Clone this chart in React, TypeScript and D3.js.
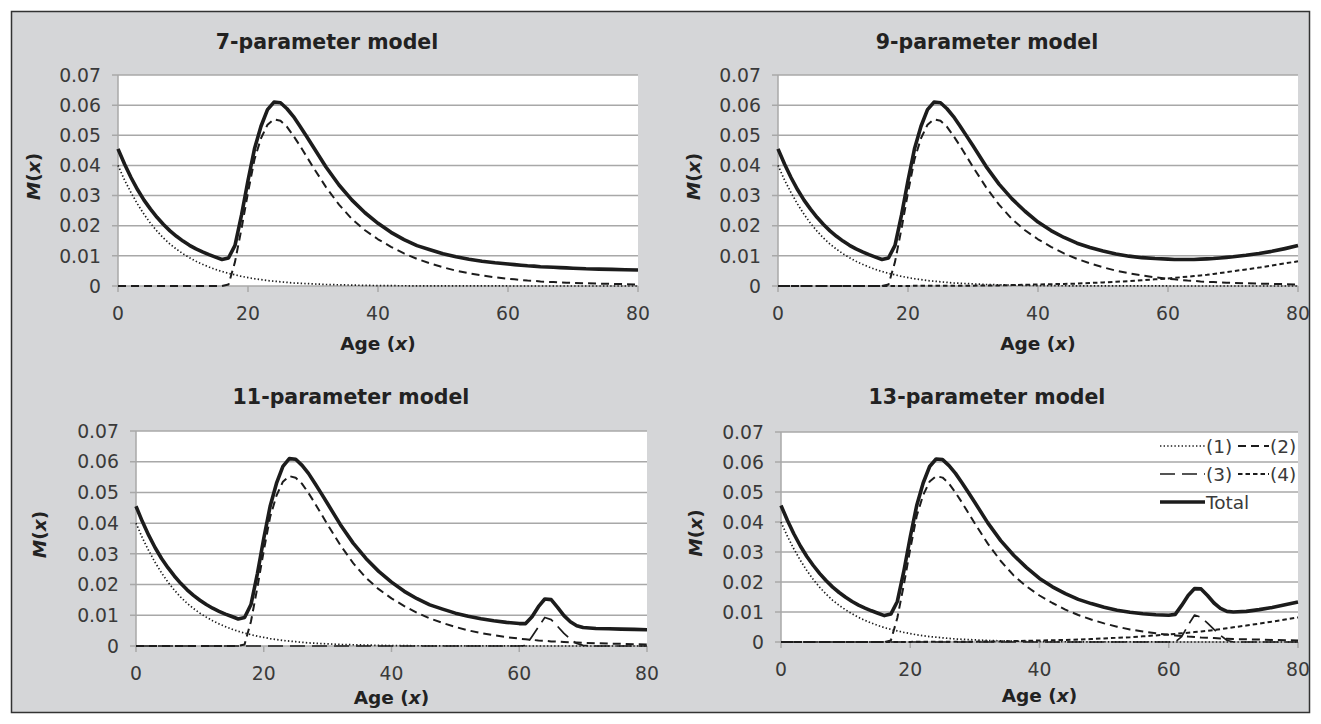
import React from "react";
import * as d3 from "d3";

// ---------- DATA ----------
const AGES = [
  0, 1, 2, 3, 4, 5, 6, 7, 8, 9, 10, 11, 12, 13, 14, 15, 16, 17, 18, 19, 20,
  21, 22, 23, 24, 25, 26, 27, 28, 29, 30, 32, 34, 36, 38, 40, 42, 44, 46, 48,
  50, 52, 54, 56, 58, 60, 61, 62, 63, 64, 65, 66, 67, 68, 69, 70, 72, 74, 76,
  78, 80,
];

// (1) child mortality component
const CHILD = [
  0.04, 0.0352, 0.031, 0.0272, 0.0238, 0.0208, 0.0182, 0.0159, 0.0139, 0.0122,
  0.0107, 0.0094, 0.0082, 0.0072, 0.0063, 0.0055, 0.0048, 0.0042, 0.0037,
  0.0032, 0.0028, 0.0024, 0.0021, 0.0018, 0.0016, 0.0014, 0.0012, 0.001,
  0.0009, 0.0008, 0.0007, 0.0005, 0.0004, 0.0003, 0.0002, 0.00015, 0.0001,
  0.00008, 0.00006, 0.00005, 0.00004, 0.00003, 0.00002, 0.00002, 0.00001,
  0.00001, 0, 0, 0, 0, 0, 0, 0, 0, 0, 0, 0, 0, 0, 0, 0,
];

// (2) young-adult hump component
const HUMP = [
  0, 0, 0, 0, 0, 0, 0, 0, 0, 0, 0, 0, 0, 0, 0, 0, 0, 0.0005, 0.008, 0.019,
  0.031, 0.042, 0.049, 0.0535, 0.0553, 0.0548, 0.0528, 0.0498, 0.0465, 0.043,
  0.0395, 0.0328, 0.027, 0.0222, 0.0185, 0.0155, 0.013, 0.0108, 0.009, 0.0075,
  0.0062, 0.0051, 0.0042, 0.0035, 0.0029, 0.0024, 0.0022, 0.002, 0.0018,
  0.0017, 0.0015, 0.0014, 0.0013, 0.0012, 0.0011, 0.001, 0.0009, 0.0008,
  0.0007, 0.0006, 0.0005,
];

// (3) late hump component, 11-parameter model
const LATE_HUMP_11 = [
  0, 0, 0, 0, 0, 0, 0, 0, 0, 0, 0, 0, 0, 0, 0, 0, 0, 0, 0, 0, 0, 0, 0, 0, 0,
  0, 0, 0, 0, 0, 0, 0, 0, 0, 0, 0, 0, 0, 0, 0, 0, 0, 0, 0, 0, 0, 0.0001,
  0.0031, 0.0062, 0.0093, 0.0086, 0.0064, 0.0041, 0.0022, 0.0008, 0.0002, 0,
  0, 0, 0, 0,
];

// (3) late hump component, 13-parameter model
const LATE_HUMP_13 = [
  0, 0, 0, 0, 0, 0, 0, 0, 0, 0, 0, 0, 0, 0, 0, 0, 0, 0, 0, 0, 0, 0, 0, 0, 0,
  0, 0, 0, 0, 0, 0, 0, 0, 0, 0, 0, 0, 0, 0, 0, 0, 0, 0, 0, 0, 0, 0, 0.0018,
  0.0056, 0.009, 0.0082, 0.0063, 0.0042, 0.0022, 0.0006, 0, 0, 0, 0, 0, 0,
];

// (4) senescent component
const SENESCENT = [
  0, 0, 0, 0, 0, 0, 0, 0, 0, 0, 0, 0, 0, 0, 0, 0, 0, 0, 0, 0, 0, 0.0001,
  0.0001, 0.0001, 0.0001, 0.0001, 0.0001, 0.0001, 0.0001, 0.0001, 0.0001,
  0.0002, 0.0002, 0.0003, 0.0004, 0.0005, 0.0006, 0.0007, 0.0008, 0.001,
  0.0012, 0.0014, 0.0016, 0.0019, 0.0022, 0.0025, 0.0027, 0.0029, 0.0031,
  0.0033, 0.0035, 0.0037, 0.004, 0.0043, 0.0046, 0.0049, 0.0055, 0.0061,
  0.0068, 0.0075, 0.0082,
];

const TOTAL_7 = [
  0.0455, 0.0405, 0.036, 0.032, 0.0285, 0.0255, 0.0228, 0.0204, 0.0183,
  0.0165, 0.0149, 0.0135, 0.0123, 0.0113, 0.0104, 0.0096, 0.0088, 0.0093,
  0.0135, 0.0235, 0.035, 0.0455, 0.053, 0.0585, 0.061, 0.0608, 0.0588,
  0.0562, 0.053, 0.0497, 0.0463, 0.0395, 0.0335, 0.0285, 0.0243, 0.0208,
  0.0178, 0.0154, 0.0134, 0.012, 0.0107, 0.0097, 0.0089, 0.0082, 0.0077,
  0.0073, 0.0071, 0.0069, 0.0067, 0.0066, 0.0064, 0.0063, 0.0062, 0.0061,
  0.006, 0.0059, 0.0057, 0.0056, 0.0055, 0.0054, 0.0053,
];

const TOTAL_9 = [
  0.0455, 0.0405, 0.036, 0.032, 0.0285, 0.0255, 0.0228, 0.0204, 0.0183,
  0.0165, 0.0149, 0.0135, 0.0123, 0.0113, 0.0104, 0.0096, 0.0088, 0.0093,
  0.0135, 0.0235, 0.035, 0.0455, 0.053, 0.0585, 0.061, 0.0608, 0.0588,
  0.0562, 0.0531, 0.0498, 0.0465, 0.0397, 0.0338, 0.0289, 0.0248, 0.0212,
  0.0184, 0.0161, 0.0142, 0.0128, 0.0116, 0.0106, 0.0099, 0.0094, 0.0091,
  0.0089, 0.0088, 0.0088, 0.0088, 0.0088, 0.0089, 0.009, 0.0091, 0.0093,
  0.0095, 0.0097, 0.0102, 0.0108, 0.0115, 0.0124, 0.0134,
];

const TOTAL_11 = [
  0.0455, 0.0405, 0.036, 0.032, 0.0285, 0.0255, 0.0228, 0.0204, 0.0183,
  0.0165, 0.0149, 0.0135, 0.0123, 0.0113, 0.0104, 0.0096, 0.0088, 0.0093,
  0.0135, 0.0235, 0.035, 0.0455, 0.053, 0.0585, 0.061, 0.0608, 0.0588,
  0.0562, 0.053, 0.0497, 0.0463, 0.0395, 0.0335, 0.0285, 0.0243, 0.0208,
  0.0178, 0.0154, 0.0134, 0.012, 0.0107, 0.0097, 0.0089, 0.0082, 0.0077,
  0.0073, 0.0073, 0.0095, 0.0128, 0.0153, 0.0151, 0.0126, 0.0099, 0.0079,
  0.0066, 0.006, 0.0057, 0.0056, 0.0055, 0.0054, 0.0053,
];

const TOTAL_13 = [
  0.0455, 0.0405, 0.036, 0.032, 0.0285, 0.0255, 0.0228, 0.0204, 0.0183,
  0.0165, 0.0149, 0.0135, 0.0123, 0.0113, 0.0104, 0.0096, 0.0088, 0.0093,
  0.0135, 0.0235, 0.035, 0.0455, 0.053, 0.0585, 0.061, 0.0608, 0.0588,
  0.0562, 0.0531, 0.0498, 0.0465, 0.0397, 0.0338, 0.0289, 0.0248, 0.0212,
  0.0184, 0.0161, 0.0142, 0.0128, 0.0116, 0.0106, 0.0099, 0.0094, 0.0091,
  0.0089, 0.0092, 0.0122, 0.0155, 0.0178, 0.0177, 0.0155, 0.013, 0.0112,
  0.0102, 0.01, 0.0102, 0.0108, 0.0115, 0.0124, 0.0133,
];

const Y_TICKS = [0, 0.01, 0.02, 0.03, 0.04, 0.05, 0.06, 0.07];
const Y_TICK_LABELS = ["0", "0.01", "0.02", "0.03", "0.04", "0.05", "0.06", "0.07"];
const X_TICKS = [0, 20, 40, 60, 80];
const TITLES = ["7-parameter model", "9-parameter model", "11-parameter model", "13-parameter model"];
const LEGEND_LABELS = ["(1)", "(2)", "(3)", "(4)", "Total"];

// ---------- STYLES ----------
const FONT = "'DejaVu Sans', Verdana, sans-serif";
const INK = "#1c1c1c";
const GRID = "#a8a8a8";
const TEXT = "#3a3a3a";
const BG = "#d5d6d8";

type Style = { dash: string | null; width: number };
const STYLES: Record<string, Style> = {
  c1: { dash: "1.4 2.2", width: 1.7 },
  c2: { dash: "8 5", width: 2 },
  c3: { dash: "15 7", width: 1.7 },
  c4: { dash: "4.5 3", width: 2 },
  total: { dash: null, width: 3.6 },
};

type Series = { key: string; values: number[] };
type PanelCfg = {
  title: string;
  left: number;
  right: number;
  top: number;
  bottom: number;
  titleX: number;
  titleY: number;
  ageY: number;
  yLabelX: number;
  series: Series[];
  legend?: boolean;
};

const PANELS: PanelCfg[] = [
  {
    title: TITLES[0], left: 118, right: 638, top: 75, bottom: 286, titleX: 327, titleY: 49, ageY: 350, yLabelX: 40,
    series: [
      { key: "c1", values: CHILD },
      { key: "c2", values: HUMP },
      { key: "total", values: TOTAL_7 },
    ],
  },
  {
    title: TITLES[1], left: 778, right: 1298, top: 75, bottom: 286, titleX: 987, titleY: 49, ageY: 350, yLabelX: 700,
    series: [
      { key: "c1", values: CHILD },
      { key: "c4", values: SENESCENT },
      { key: "c2", values: HUMP },
      { key: "total", values: TOTAL_9 },
    ],
  },
  {
    title: TITLES[2], left: 136, right: 647, top: 431, bottom: 646, titleX: 351, titleY: 404, ageY: 704, yLabelX: 46,
    series: [
      { key: "c1", values: CHILD },
      { key: "c3", values: LATE_HUMP_11 },
      { key: "c2", values: HUMP },
      { key: "total", values: TOTAL_11 },
    ],
  },
  {
    title: TITLES[3], left: 781, right: 1298, top: 432, bottom: 642, titleX: 987, titleY: 404, ageY: 702, yLabelX: 702,
    series: [
      { key: "c1", values: CHILD },
      { key: "c3", values: LATE_HUMP_13 },
      { key: "c4", values: SENESCENT },
      { key: "c2", values: HUMP },
      { key: "total", values: TOTAL_13 },
    ],
    legend: true,
  },
];

function Legend({ x0, y0 }: { x0: number; y0: number }) {
  const rowH = 28;
  const items = [
    { key: "c1", label: LEGEND_LABELS[0], sx: x0, w: 45, row: 0 },
    { key: "c2", label: LEGEND_LABELS[1], sx: x0 + 78, w: 31, row: 0 },
    { key: "c3", label: LEGEND_LABELS[2], sx: x0, w: 45, row: 1 },
    { key: "c4", label: LEGEND_LABELS[3], sx: x0 + 78, w: 31, row: 1 },
    { key: "total", label: LEGEND_LABELS[4], sx: x0, w: 45, row: 2 },
  ];
  return (
    <g>
      {items.map((it) => {
        const st = STYLES[it.key];
        const sy = y0 + it.row * rowH;
        return (
          <g key={it.key}>
            <line
              x1={it.sx}
              x2={it.sx + it.w}
              y1={sy}
              y2={sy}
              stroke={INK}
              strokeWidth={st.width}
              strokeDasharray={st.dash ?? undefined}
            />
            <text x={it.sx + it.w + 1} y={sy} dy="0.36em" fontSize={18.5} fill={TEXT} fontFamily={FONT}>
              {it.label}
            </text>
          </g>
        );
      })}
    </g>
  );
}

function Panel({ cfg }: { cfg: PanelCfg }) {
  const x = d3.scaleLinear().domain([0, 80]).range([cfg.left, cfg.right]);
  const y = d3.scaleLinear().domain([0, 0.07]).range([cfg.bottom, cfg.top]);
  const line = d3
    .line<number>()
    .x((_, i) => x(AGES[i]))
    .y((d) => y(d))
    .curve(d3.curveLinear);
  const midY = (cfg.top + cfg.bottom) / 2;
  return (
    <g>
      <text
        x={cfg.titleX}
        y={cfg.titleY}
        textAnchor="middle"
        fontSize={20.5}
        fontWeight="bold"
        fill="#222"
        fontFamily={FONT}
      >
        {cfg.title}
      </text>
      <rect x={cfg.left} y={cfg.top} width={cfg.right - cfg.left} height={cfg.bottom - cfg.top} fill="#fff" />
      {Y_TICKS.map((t, i) => (
        <g key={t}>
          <line x1={cfg.left - 6} x2={cfg.right} y1={y(t)} y2={y(t)} stroke={GRID} strokeWidth={1.5} />
          <text
            x={cfg.left - 17}
            y={y(t)}
            dy="0.36em"
            textAnchor="end"
            fontSize={18.8}
            fill={TEXT}
            fontFamily={FONT}
          >
            {Y_TICK_LABELS[i]}
          </text>
        </g>
      ))}
      <line x1={cfg.left} x2={cfg.left} y1={cfg.top} y2={cfg.bottom} stroke={GRID} strokeWidth={1.5} />
      {X_TICKS.map((t) => (
        <g key={t}>
          <line x1={x(t)} x2={x(t)} y1={cfg.bottom} y2={cfg.bottom + 6} stroke={GRID} strokeWidth={1.5} />
          <text x={x(t)} y={cfg.bottom + 34} textAnchor="middle" fontSize={18.8} fill={TEXT} fontFamily={FONT}>
            {t}
          </text>
        </g>
      ))}
      <text
        x={(cfg.left + cfg.right) / 2}
        y={cfg.ageY}
        textAnchor="middle"
        fontSize={18.5}
        fontWeight="bold"
        fill="#222"
        fontFamily={FONT}
      >
        Age (<tspan fontStyle="italic">x</tspan>)
      </text>
      <text
        transform={`translate(${cfg.yLabelX},${midY - 4}) rotate(-90)`}
        textAnchor="middle"
        fontSize={18.5}
        fontWeight="bold"
        fill="#222"
        fontFamily={FONT}
      >
        <tspan fontStyle="italic">M</tspan>(<tspan fontStyle="italic">x</tspan>)
      </text>
      {cfg.series.map((s, i) => {
        const st = STYLES[s.key];
        return (
          <path
            key={i}
            d={line(s.values) ?? ""}
            fill="none"
            stroke={INK}
            strokeWidth={st.width}
            strokeDasharray={st.dash ?? undefined}
            strokeLinejoin="round"
          />
        );
      })}
      {cfg.legend ? <Legend x0={1160} y0={446} /> : null}
    </g>
  );
}

export default function App() {
  return (
    <svg
      width={1321}
      height={724}
      style={{ position: "absolute", left: 0, top: 0, display: "block" }}
    >
      <rect x={0} y={0} width={1321} height={724} fill="#fff" />
      <rect x={11.5} y={11.5} width={1298} height={701} fill={BG} stroke="#333" strokeWidth={1.5} />
      {PANELS.map((p, i) => (
        <Panel key={i} cfg={p} />
      ))}
    </svg>
  );
}
